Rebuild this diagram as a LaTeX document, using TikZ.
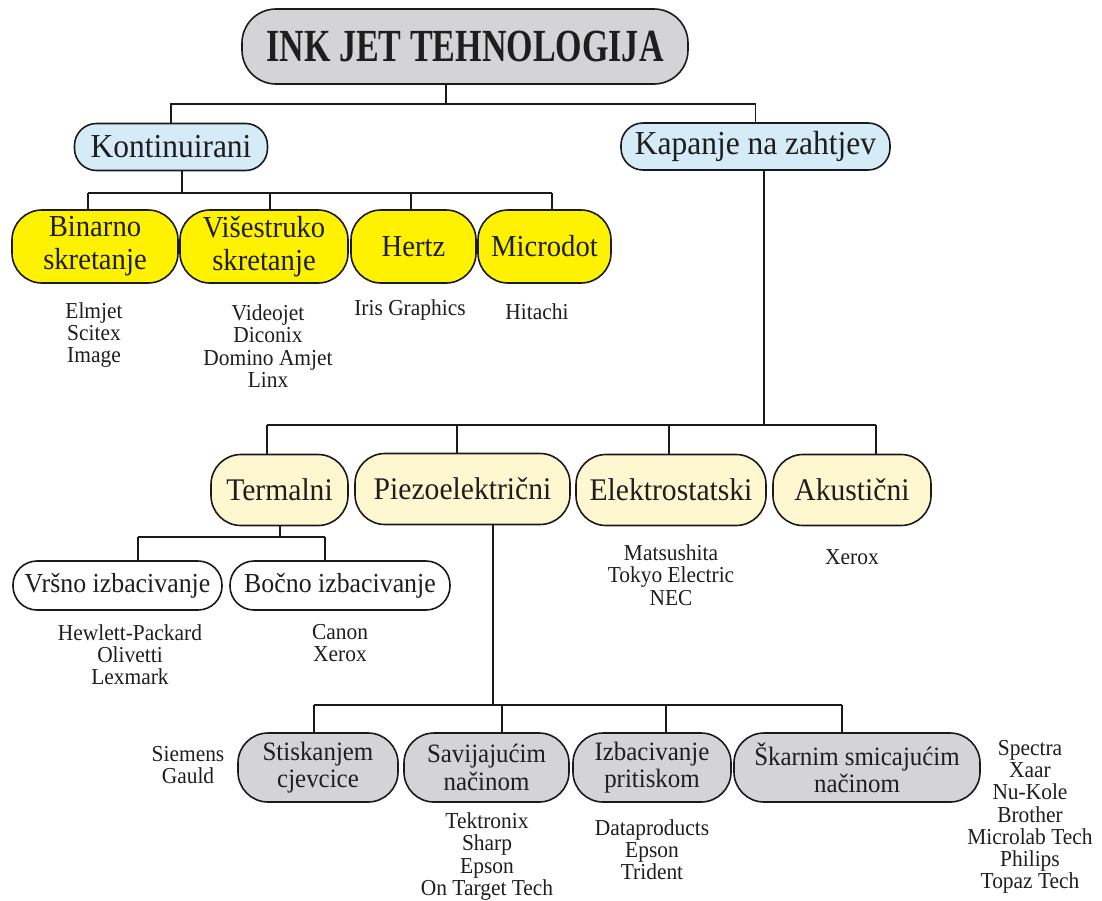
\documentclass[tikz,border=0pt]{standalone}
\usepackage{fontspec}
\setmainfont{Liberation Serif}[FakeStretch=0.94]
\newfontfamily\titlefont{Liberation Serif}[FakeStretch=0.74]
\definecolor{graybox}{HTML}{D4D4D6}
\definecolor{bluebox}{HTML}{D6EBF8}
\definecolor{yelbox}{HTML}{FFF200}
\definecolor{paleyel}{HTML}{FFF7CF}
\definecolor{linecol}{HTML}{1A1A1A}
\definecolor{txtcol}{HTML}{1E1E1E}
\tikzset{
  box/.style={draw=linecol, line width=1.6pt, align=center, inner sep=0pt, text=txtcol},
  titlebox/.style={box, fill=graybox, rounded corners=34pt, font=\titlefont\bfseries\fontsize{46}{50}\selectfont},
  bluenode/.style={box, fill=bluebox, minimum height=47pt, rounded corners=22pt, font=\fontsize{33.5}{35}\selectfont},
  yelnode/.style={box, fill=yelbox, minimum height=73pt, rounded corners=30pt, font=\fontsize{30.5}{33}\selectfont},
  palenode/.style={box, fill=paleyel, minimum height=71pt, rounded corners=30pt, font=\fontsize{31.5}{34}\selectfont},
  whitenode/.style={box, fill=white, minimum height=49pt, rounded corners=24pt, font=\fontsize{27.5}{29}\selectfont},
  graynode/.style={box, fill=graybox, minimum height=69pt, rounded corners=30pt, font=\fontsize{26.5}{27.5}\selectfont},
  conn/.style={draw=linecol, line width=1.8pt},
  lbl/.style={align=center, inner sep=0pt, text=txtcol, font=\fontsize{22.8}{22.2}\selectfont},
}
\begin{document}
\begin{tikzpicture}[x=1pt,y=-1pt]
\clip (0,0) rectangle (1102,900);
\fill[white] (0,0) rectangle (1102,900);

% nodes
\node[titlebox, minimum width=446pt, minimum height=75pt] (title) at (465,46.5) {INK JET TEHNOLOGIJA};

\node[bluenode, minimum width=193pt] (kont) at (171,147) {Kontinuirani};
\node[bluenode, minimum width=269pt] (kap) at (755.5,146.5) {Kapanje na zahtjev};

\node[yelnode, minimum width=166pt] (bin) at (95,246.5) {Binarno\\skretanje};
\node[yelnode, minimum width=168pt] (vis) at (264,246.5) {Višestruko\\skretanje};
\node[yelnode, minimum width=125pt] (hertz) at (413.5,246.5) {Hertz};
\node[yelnode, minimum width=133pt] (micro) at (544.5,246.5) {Microdot};

\node[palenode, minimum width=137pt] (term) at (279.5,490) {Termalni};
\node[palenode, minimum width=215pt] (piezo) at (462.5,489) {Piezoelektrični};
\node[palenode, minimum width=190pt] (elek) at (671,490) {Elektrostatski};
\node[palenode, minimum width=158pt] (akus) at (852,490) {Akustični};

\node[whitenode, minimum width=209pt] (vrs) at (117.5,585.5) {Vršno izbacivanje};
\node[whitenode, minimum width=220pt] (boc) at (340,585.5) {Bočno izbacivanje};

\node[graynode, minimum width=160pt] (stis) at (318,767.5) {Stiskanjem\\cjevcice};
\node[graynode, minimum width=165pt] (savi) at (486.5,767.5) {Savijajućim\\načinom};
\node[graynode, minimum width=158pt] (izba) at (652,767.5) {Izbacivanje\\pritiskom};
\node[graynode, minimum width=246pt] (skar) at (857,767.5) {Škarnim smicajućim\\načinom};

% labels
\node[lbl] (l1) at (94,335) {Elmjet\\Scitex\\Image};
\node[lbl] (l2) at (268,346) {Videojet\\Diconix\\Domino Amjet\\Linx};
\node[lbl] (l3) at (410,310) {Iris Graphics};
\node[lbl] (l4) at (537,312) {Hitachi};
\node[lbl] (l5) at (130,654.5) {Hewlett-Packard\\Olivetti\\Lexmark};
\node[lbl] (l6) at (340,643) {Canon\\Xerox};
\node[lbl] (l7) at (671,575) {Matsushita\\Tokyo Electric\\NEC};
\node[lbl] (l8) at (852,557) {Xerox};
\node[lbl] (l9) at (188,765) {Siemens\\Gauld};
\node[lbl] (l10) at (487,856.5) {Tektronix\\Sharp\\Epson\\On Target Tech};
\node[lbl] (l11) at (652,849.5) {Dataproducts\\Epson\\Trident};
\node[lbl] (l12) at (1030,817) {Spectra\\Xaar\\Nu-Kole\\Brother\\Microlab Tech\\Philips\\Topaz Tech};

% connectors: level 1
\coordinate (t0) at (446,104);
\draw[conn] (title.south -| t0) -- (t0);
\draw[conn] (kont.north) -- (kont.north |- t0) -- (kap.north |- t0) -- (kap.north);

% Kontinuirani
\coordinate (k0) at (182,193);
\coordinate (b1) at (88,193);
\coordinate (b2) at (270,193);
\coordinate (b3) at (411,193);
\coordinate (b4) at (552,193);
\draw[conn] (kont.south -| k0) -- (k0);
\draw[conn] (b1) -- (b4);
\draw[conn] (b1) -- (bin.north -| b1);
\draw[conn] (b2) -- (vis.north -| b2);
\draw[conn] (b3) -- (hertz.north -| b3);
\draw[conn] (b4) -- (micro.north -| b4);

% Kapanje
\coordinate (p0) at (764,425);
\coordinate (c1) at (267,425);
\coordinate (c2) at (457,425);
\coordinate (c3) at (669,425);
\coordinate (c4) at (876,425);
\draw[conn] (kap.south -| p0) -- (p0);
\draw[conn] (c1) -- (c4);
\draw[conn] (c1) -- (term.north -| c1);
\draw[conn] (c2) -- (piezo.north -| c2);
\draw[conn] (c3) -- (elek.north -| c3);
\draw[conn] (c4) -- (akus.north -| c4);

% Termalni
\coordinate (q0) at (280,537);
\coordinate (q1) at (138,537);
\coordinate (q2) at (325,537);
\draw[conn] (term.south -| q0) -- (q0);
\draw[conn] (q1) -- (q2);
\draw[conn] (q1) -- (vrs.north -| q1);
\draw[conn] (q2) -- (boc.north -| q2);

% Piezo
\coordinate (r0) at (493,705);
\coordinate (r1) at (314,705);
\coordinate (r2) at (502,705);
\coordinate (r3) at (666,705);
\coordinate (r4) at (842,705);
\draw[conn] (piezo.south -| r0) -- (r0);
\draw[conn] (r1) -- (r4);
\draw[conn] (r1) -- (stis.north -| r1);
\draw[conn] (r2) -- (savi.north -| r2);
\draw[conn] (r3) -- (izba.north -| r3);
\draw[conn] (r4) -- (skar.north -| r4);
\end{tikzpicture}
\end{document}
